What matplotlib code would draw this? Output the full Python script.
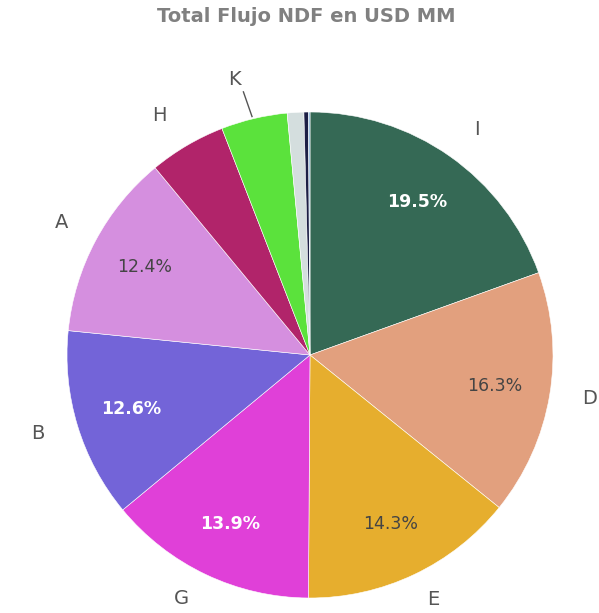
import numpy as np
import matplotlib
matplotlib.use('Agg')
import matplotlib.pyplot as plt

# data
labels = ['I', 'D', 'E', 'G', 'B', 'A', 'H', 'K', '', '', '']
values = [19.5, 16.3, 14.3, 13.9, 12.6, 12.4, 5.1, 4.4, 1.1, 0.3, 0.1]
colors = ['#356955', '#e2a07e', '#e6ae2e', '#e040d8', '#7364d8', '#d58fdf',
          '#b1246a', '#5be23c', '#d4dede', '#1c1f45', '#7fb0d8']
# which percent labels are white (dark slices)
white_pct = [True, False, False, True, True, False]

W, H = 599, 613
fig = plt.figure(figsize=(W / 100, H / 100), dpi=100)
ax = fig.add_axes([0, 0, 1, 1])

cx, cy, R = 310, H - 355, 243

def pct_fmt(p):
    return '%.1f%%' % p if p > 10 else ''

wedges, texts, autotexts = ax.pie(
    values, labels=labels, colors=colors, startangle=90, counterclock=False,
    center=(cx, cy), radius=R, labeldistance=1.16, pctdistance=0.77,
    autopct=pct_fmt, wedgeprops=dict(linewidth=0.4, edgecolor='white'),
    frame=True)

# small nudges (pixels) so labels sit like the reference
nudge = {'I': (5, -5), 'E': (2, 10), 'G': (-8, 11), 'B': (-3, 4), 'H': (-8, -4), 'K': (-11, 1), 'D': (2, 3)}
for t in texts:
    t.set_ha('center')
    t.set_va('center')
    t.set_fontsize(14)
    t.set_color('#555555')
    dx, dy = nudge.get(t.get_text(), (0, 0))
    x, y = t.get_position()
    t.set_position((x + dx, y + dy))

for i, t in enumerate(autotexts):
    t.set_ha('center')
    t.set_va('center')
    t.set_fontsize(12.5)
    if i < len(white_pct) and white_pct[i]:
        t.set_color('white')
        t.set_fontweight('bold')
    else:
        t.set_color('#444444')

# leader line for K
wk = wedges[7]
th = np.deg2rad((wk.theta1 + wk.theta2) / 2)
ax.plot([cx + R * 1.0 * np.cos(th) - 2, cx + R * 1.10 * np.cos(th) - 5],
        [cy + R * 1.0 * np.sin(th) + 2, cy + R * 1.10 * np.sin(th) + 3],
        color='#555555', lw=1)

ax.set_xlim(0, W)
ax.set_ylim(0, H)
ax.set_aspect('equal')
ax.axis('off')

fig.text(0.512, 1 - 17 / H, 'Total Flujo NDF en USD MM', ha='center', va='center',
         fontsize=14, fontweight='bold', color='#808080')

fig.savefig('out.png', dpi=100)
